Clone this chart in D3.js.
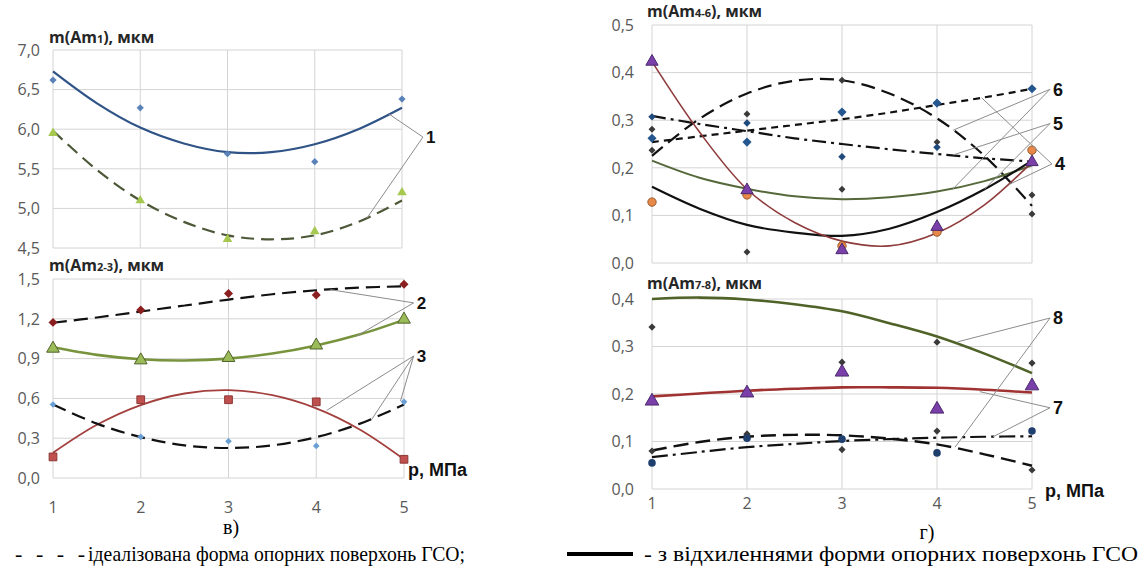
<!DOCTYPE html>
<html><head><meta charset="utf-8">
<script src="https://cdn.jsdelivr.net/npm/d3@7"></script>
<style>body{margin:0;background:#fff}svg{display:block}</style>
</head><body>
<svg id="c" width="1148" height="574"></svg>
<script>
// ---------- data ----------
const pressure = [1, 2, 3, 4, 5];
const fitP = [1, 1.5, 2, 2.5, 3, 3.5, 4, 4.5, 5];

// panel в), top: m(Am1)
const yTicksAm1 = [4.5, 5.0, 5.5, 6.0, 6.5, 7.0];
const ptsAm1Solid = [6.62, 6.27, 5.69, 5.59, 6.38];
const ptsAm1Dashed = [5.95, 5.10, 4.61, 4.71, 5.20];
const fitAm1Solid = [6.73, 6.33, 6.02, 5.82, 5.71, 5.71, 5.81, 6.00, 6.27];
const fitAm1Dashed = [5.98, 5.49, 5.10, 4.83, 4.66, 4.61, 4.66, 4.83, 5.10];

// panel в), bottom: m(Am2-3)
const yTicksAm23 = [0, 0.3, 0.6, 0.9, 1.2, 1.5];
const pts2Dashed = [1.173, 1.266, 1.39, 1.38, 1.46];
const pts2Solid = [0.976, 0.888, 0.906, 1.0, 1.195];
const pts3Solid = [0.159, 0.59, 0.59, 0.574, 0.141];
const pts3Dashed = [0.554, 0.31, 0.277, 0.242, 0.574];
const fit2Dashed = [1.17, 1.21, 1.255, 1.30, 1.345, 1.385, 1.415, 1.435, 1.445];
const fit2Solid = [0.985, 0.928, 0.895, 0.886, 0.90, 0.938, 0.999, 1.083, 1.192];
const fit3Solid = [0.19, 0.401, 0.55, 0.637, 0.662, 0.624, 0.525, 0.364, 0.141];
const fit3Dashed = [0.554, 0.41, 0.308, 0.246, 0.226, 0.246, 0.308, 0.41, 0.554];

// panel г), top: m(Am4-6)
const yTicksAm46 = [0, 0.1, 0.2, 0.3, 0.4, 0.5];
const fitLongDash46 = [0.225, 0.303, 0.356, 0.383, 0.384, 0.356, 0.304, 0.225, 0.12];
const fitShortDash46 = [0.254, 0.266, 0.278, 0.290, 0.302, 0.316, 0.332, 0.348, 0.366];
const fitDashDot46 = [0.309, 0.292, 0.277, 0.262, 0.250, 0.239, 0.229, 0.220, 0.213];
const fitOlive46 = [0.215, 0.179, 0.156, 0.140, 0.134, 0.138, 0.150, 0.172, 0.205];
const fitBlack46 = [0.16, 0.114, 0.08, 0.064, 0.057, 0.072, 0.107, 0.155, 0.215];
const fitRed46 = [0.423, 0.275, 0.155, 0.085, 0.046, 0.036, 0.063, 0.122, 0.212];
const ptsPurple46 = [0.423, 0.153, 0.027, 0.076, 0.212];
const ptsOrange46 = [0.128, 0.143, 0.036, 0.065, 0.237];
const ptsGrayA46 = [0.237, 0.313, 0.384, 0.336, 0.103];
const ptsGrayB46 = [0.281, 0.023, 0.155, 0.254, 0.143];
const ptsBlueA46 = [0.262, 0.254, 0.317, 0.336, 0.366];
const ptsBlueB46 = [0.307, 0.294, 0.223, 0.243, 0.212];

// panel г), bottom: m(Am7-8)
const yTicksAm78 = [0, 0.1, 0.2, 0.3, 0.4];
const fitOlive78 = [0.40, 0.403, 0.399, 0.389, 0.374, 0.349, 0.321, 0.285, 0.244];
const fitRed78 = [0.195, 0.201, 0.207, 0.211, 0.214, 0.214, 0.213, 0.209, 0.203];
const fitLongDash78 = [0.081, 0.099, 0.110, 0.114, 0.113, 0.106, 0.094, 0.073, 0.049];
const fitDashDot78 = [0.067, 0.078, 0.088, 0.095, 0.101, 0.105, 0.108, 0.110, 0.111];
const ptsGrayA78 = [0.341, 0.116, 0.267, 0.309, 0.265];
const ptsGrayB78 = [0.080, 0.113, 0.083, 0.122, 0.040];
const ptsPurple78 = [0.185, 0.202, 0.246, 0.168, 0.217];
const ptsBlue78 = [0.055, 0.107, 0.105, 0.076, 0.122];

// callouts: [label, labelP, labelV, [[p,v],...]]
const callTL = [["1", 5.24, 5.90, [[4.84, 6.20], [4.6, 4.88]]]];
const callBL = [["2", 5.11, 1.32, [[4.16, 1.42], [4.46, 1.07]]],
                ["3", 5.11, 0.92, [[4.12, 0.51], [4.63, 0.44], [4.96, 0.58]]]];
const callTR = [["6", 5.19, 0.365, [[4.17, 0.279], [4.16, 0.154]]],
                ["5", 5.19, 0.293, [[4.17, 0.227], [4.5, 0.155]]],
                ["4", 5.21, 0.208, [[4.47, 0.347], [4.76, 0.165]]]];
const callBR = [["8", 5.19, 0.36, [[4.22, 0.31], [4.19, 0.088]]],
                ["7", 5.19, 0.171, [[4.45, 0.205], [4.59, 0.11]]]];

const legendIdeal = "ідеалізована форма опорних поверхонь ГСО;";
const legendDev = "- з відхиленнями форми опорних поверхонь ГСО";

// ---------- drawing ----------
const svg = d3.select("#c");
const fmt = v => d3.format(".1f")(v).replace(".", ",");
const tickFont = "'Open Sans', sans-serif";

function panel(cfg) {
  const x = d3.scaleLinear().domain([1, 5]).range([cfg.x0, cfg.x1]);
  const y = d3.scaleLinear().domain(cfg.dom).range([cfg.y0, cfg.y1]);
  const g = svg.append("g");
  g.append("g").selectAll("line").data(cfg.ticks).join("line")
    .attr("x1", cfg.x0).attr("x2", cfg.x1)
    .attr("y1", d => y(d)).attr("y2", d => y(d))
    .attr("stroke", "#d4d4d4").attr("stroke-width", 1);
  g.append("g").selectAll("line").data(pressure).join("line")
    .attr("x1", d => x(d)).attr("x2", d => x(d))
    .attr("y1", cfg.y0).attr("y2", cfg.y1)
    .attr("stroke", "#d4d4d4").attr("stroke-width", 1);
  g.append("g").selectAll("text").data(cfg.ticks).join("text")
    .attr("x", cfg.labX).attr("y", d => y(d)).attr("dy", "0.36em")
    .attr("text-anchor", "end").attr("font-family", tickFont)
    .attr("font-size", 16).attr("fill", "#595959").text(fmt);
  if (cfg.xLabY) {
    g.append("g").selectAll("text").data(pressure).join("text")
      .attr("x", d => x(d)).attr("y", cfg.xLabY).attr("dy", "0.36em")
      .attr("text-anchor", "middle").attr("font-family", tickFont)
      .attr("font-size", 16).attr("fill", "#595959").text(d => d);
  }
  const t = g.append("text").attr("x", cfg.titleX).attr("y", cfg.titleY)
    .attr("font-family", tickFont).attr("font-weight", 700)
    .attr("font-size", 16).attr("fill", "#262626");
  t.append("tspan").text("m(Am");
  t.append("tspan").attr("font-size", 11).text(cfg.sub);
  t.append("tspan").text("), мкм");
  return {x, y, g};
}

function curve(P, vals, color, width, dash) {
  const line = d3.line().x(d => P.x(d[0])).y(d => P.y(d[1])).curve(d3.curveCatmullRom);
  P.g.append("path").datum(fitP.map((p, i) => [p, vals[i]]))
    .attr("d", line).attr("fill", "none").attr("stroke", color)
    .attr("stroke-width", width).attr("stroke-dasharray", dash || null)
    .attr("stroke-linecap", "butt");
}

function markers(P, vals, shape, size, fill, stroke) {
  const sym = d3.symbol().type(shape === "diamond" ? d3.symbolSquare :
    shape === "triangle" ? d3.symbolTriangle :
    shape === "square" ? d3.symbolSquare : d3.symbolCircle).size(size);
  P.g.append("g").selectAll("path").data(pressure.map((p, i) => [p, vals[i]])).join("path")
    .attr("d", sym)
    .attr("transform", d => `translate(${P.x(d[0])},${P.y(d[1])})` + (shape === "diamond" ? " rotate(45)" : ""))
    .attr("fill", fill).attr("stroke", stroke || "none").attr("stroke-width", stroke ? 1 : 0);
}

function callouts(P, list, fs) {
  list.forEach(([lab, lp, lv, targets]) => {
    targets.forEach(([tp, tv]) => {
      P.g.append("line").attr("x1", P.x(lp)).attr("y1", P.y(lv))
        .attr("x2", P.x(tp)).attr("y2", P.y(tv))
        .attr("stroke", "#8c8c8c").attr("stroke-width", 1);
    });
    P.g.append("text").attr("x", P.x(lp) + 3).attr("y", P.y(lv)).attr("dy", "0.36em")
      .attr("font-family", "'Liberation Sans', Arial, sans-serif").attr("font-weight", 700)
      .attr("font-size", fs).attr("fill", "#111").text(lab);
  });
}

// ---- в) top
const TL = panel({x0: 53, x1: 402, y0: 248, y1: 50, dom: [4.5, 7.0], ticks: yTicksAm1,
  labX: 40, titleX: 49, titleY: 43, sub: "1"});
curve(TL, fitAm1Solid, "#2f5386", 2.2);
curve(TL, fitAm1Dashed, "#4d5838", 2.2, "13,7");
markers(TL, ptsAm1Solid, "diamond", 26, "#5b82b8");
markers(TL, ptsAm1Dashed, "triangle", 40, "#a6c84f");
callouts(TL, callTL, 17);

// ---- в) bottom
const BL = panel({x0: 53, x1: 404, y0: 478, y1: 279, dom: [0, 1.5], ticks: yTicksAm23,
  labX: 40, xLabY: 507, titleX: 49, titleY: 271, sub: "2-3"});
curve(BL, fit2Dashed, "#111", 2.2, "14,7");
curve(BL, fit2Solid, "#77933c", 2.6);
curve(BL, fit3Solid, "#a3403e", 1.8);
curve(BL, fit3Dashed, "#111", 2.2, "14,7");
markers(BL, pts2Dashed, "diamond", 40, "#8b1f1f");
markers(BL, pts2Solid, "triangle", 70, "#9bbb59", "#4f6228");
markers(BL, pts3Solid, "square", 60, "#c0504d", "#8c3836");
markers(BL, pts3Dashed, "diamond", 22, "#6a9fd6");
callouts(BL, callBL, 17);
BL.g.append("text").attr("x", 408).attr("y", 470).attr("dy", "0.36em")
  .attr("font-family", "'Liberation Sans', Arial, sans-serif").attr("font-weight", 700)
  .attr("font-size", 18).attr("fill", "#111").text("p, МПа");

// ---- г) top
const TR = panel({x0: 652, x1: 1032, y0: 263, y1: 25, dom: [0, 0.5], ticks: yTicksAm46,
  labX: 634, titleX: 647, titleY: 17, sub: "4-6"});
curve(TR, fitLongDash46, "#111", 2.2, "14,7");
curve(TR, fitShortDash46, "#111", 2.2, "7,5");
curve(TR, fitDashDot46, "#111", 2.2, "14,5,3,5");
curve(TR, fitOlive46, "#55683a", 2);
curve(TR, fitBlack46, "#111", 2.2);
curve(TR, fitRed46, "#8f3b3b", 1.6);
markers(TR, ptsGrayA46, "diamond", 24, "#3a3a3a");
markers(TR, ptsGrayB46, "diamond", 24, "#3a3a3a");
markers(TR, ptsBlueB46, "diamond", 28, "#1f4a7c");
markers(TR, ptsBlueA46, "diamond", 42, "#24578f");
markers(TR, ptsOrange46, "circle", 55, "#e8894a", "#9a5a2a");
markers(TR, ptsPurple46, "triangle", 65, "#7a3fa8", "#4b2a6e");
callouts(TR, callTR, 18);

// ---- г) bottom
const BR = panel({x0: 652, x1: 1032, y0: 489, y1: 299, dom: [0, 0.4], ticks: yTicksAm78,
  labX: 634, xLabY: 503, titleX: 647, titleY: 289, sub: "7-8"});
curve(BR, fitOlive78, "#4f6228", 2.6);
curve(BR, fitRed78, "#a03232", 2.6);
curve(BR, fitLongDash78, "#111", 2.4, "15,7");
curve(BR, fitDashDot78, "#111", 2.2, "16,5,3,5");
markers(BR, ptsGrayA78, "diamond", 26, "#3a3a3a");
markers(BR, ptsGrayB78, "diamond", 26, "#3a3a3a");
markers(BR, ptsBlue78, "circle", 45, "#1f3f6e");
markers(BR, ptsPurple78, "triangle", 80, "#7a3fa8", "#4b2a6e");
callouts(BR, callBR, 18);
BR.g.append("text").attr("x", 1045).attr("y", 491).attr("dy", "0.36em")
  .attr("font-family", "'Liberation Sans', Arial, sans-serif").attr("font-weight", 700)
  .attr("font-size", 18).attr("fill", "#111").text("p, МПа");

// captions
const serif = "'Liberation Serif', 'Times New Roman', serif";
svg.append("text").attr("x", 231).attr("y", 527).attr("dy", "0.36em").attr("text-anchor", "middle")
  .attr("font-family", serif).attr("font-size", 20).text("в)");
svg.append("text").attr("x", 927).attr("y", 532).attr("dy", "0.36em").attr("text-anchor", "middle")
  .attr("font-family", serif).attr("font-size", 20).text("г)");

// legend
svg.append("text").attr("x", 15).attr("y", 561).attr("font-family", serif).attr("font-size", 22)
  .attr("textLength", 70).attr("lengthAdjust", "spacing").text("- - - -");
svg.append("text").attr("x", 88).attr("y", 561).attr("font-family", serif).attr("font-size", 22)
  .attr("textLength", 377).attr("lengthAdjust", "spacingAndGlyphs").text(legendIdeal);
svg.append("line").attr("x1", 567).attr("x2", 633).attr("y1", 554).attr("y2", 554)
  .attr("stroke", "#000").attr("stroke-width", 4);
svg.append("text").attr("x", 644).attr("y", 561).attr("font-family", serif).attr("font-size", 22)
  .attr("textLength", 494).attr("lengthAdjust", "spacingAndGlyphs").text(legendDev);
</script></body></html>
